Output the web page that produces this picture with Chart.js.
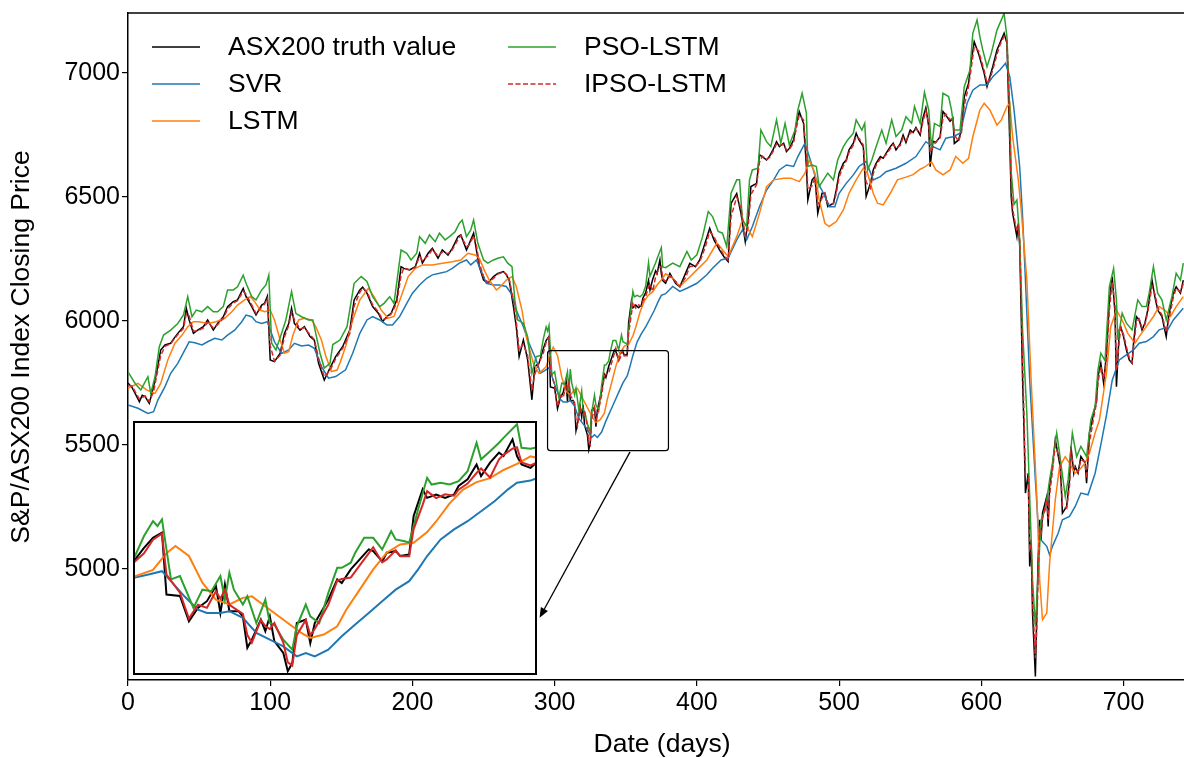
<!DOCTYPE html>
<html>
<head>
<meta charset="utf-8">
<script src="https://cdn.jsdelivr.net/npm/chart.js@4.4.1/dist/chart.umd.min.js"></script>
<style>
  html, body { margin: 0; padding: 0; background: #fff; overflow: hidden; }
  #wrap { position: relative; width: 1184px; height: 758px; }
  #main { position: absolute; left: 0; top: 0; }
  #insetBox { position: absolute; left: 133px; top: 421px; width: 400px; height: 250px;
              border: 2px solid #000; background: #fff; }
  #inset { display: block; }
</style>
</head>
<body>
<div id="wrap">
  <canvas id="main" width="1184" height="758"></canvas>
  <div id="insetBox"><canvas id="inset" width="400" height="250"></canvas></div>
</div>
<script>
// ── Data ─────────────────────────────────────────────────────────────────────
const DAYS = [
  0,3,5,8,10,12,15,18,20,23, 26,30,33,35,39,41,43,46,49,53,
  56,60,63,67,70,74,77,81,83,87, 90,94,96,98,100,103,107,110,113,115,
  117,121,124,128,131,134,138,142,146,151, 156,159,163,165,168,170,172,176,179,182,
  185,189,192,194,198,202,205,207,211,214, 218,221,225,228,232,234,238,240,243,245,
  247,250,253,257,260,264,266,268,271,273, 275,278,281,284,286,289,292,294,296,297,
  300,302,304,306,308,309,310,311,313,314, 315,316,318,319,320,321,323,324,325,326,
  328,329,330,333,335,336,338,340,342,343, 345,346,348,349,351,352,354,355,357,359,
  361,362,364,366,367,369,371,372,374,375, 376,378,381,385,388,392,395,399,402,406,
  409,412,416,419,422,424,428,431,434,436, 438,442,444,446,449,451,454,456,458,461,
  463,465,468,470,472,475,477,478,481,483, 485,488,490,492,496,498,500,503,505,507,
  510,512,514,517,519,522,524,526,529,531, 533,536,538,540,543,545,547,550,552,554,
  557,559,561,563,564,566,568,571,573,575, 578,580,581,584,586,588,591,593,595,598,
  600,602,604,606,608,611,613,616,618,619, 620,621,622,625,626,627,628,629,630,631,
  633,634,635,636,638,639,640,641,642,643, 646,647,648,650,652,655,656,657,660,662,
  663,665,666,668,670,673,674,676,679,681, 682,684,686,688,690,692,694,695,697,698,
  700,702,704,706,707,709,711,713,715,717, 720,722,724,727,730,732,735,737,740,742,
];

const TRUTH = [
  5750,5730,5708,5674,5700,5695,5668,5735,5789,5883, 5903,5910,5935,5950,5977,6051,6004,5950,5963,5977,
  6004,5963,5990,6017,6058,6078,6085,6131,6098,6058, 6024,6064,6071,6100,5843,5836,5870,5950,5990,6051,
  5990,5963,5977,5937,5923,5829,5762,5810,5856,5897, 5964,6085,6125,6136,6112,6085,6058,6031,5997,6018,
  6031,6085,6219,6212,6206,6219,6273,6233,6273,6293, 6253,6286,6266,6293,6340,6347,6286,6313,6354,6286,
  6219,6165,6152,6179,6192,6199,6186,6165,6058,5977, 5856,5923,5843,5682,5816,5830,5888,5921,5938,5734,
  5729,5646,5690,5712,5762,5673,5767,5679,5679,5662, 5558,5585,5651,5613,5662,5580,5541,5481,5508,5640,
  5651,5574,5640,5717,5784,5772,5817,5850,5883,5877, 5844,5872,5877,5861,5866,5993,6081,6053,6064,6053,
  6064,6092,6114,6163,6125,6169,6202,6191,6246,6191, 6163,6152,6192,6152,6138,6192,6232,6219,6246,6320,
  6374,6327,6286,6259,6239,6474,6514,6434,6320,6407, 6542,6555,6670,6663,6649,6663,6696,6723,6703,6717,
  6683,6696,6730,6797,6844,6797,6623,6488,6569,6582, 6434,6515,6515,6461,6475,6529,6596,6636,6649,6690,
  6717,6757,6730,6703,6502,6555,6609,6636,6663,6656, 6676,6703,6717,6690,6715,6750,6720,6770,6760,6780,
  6750,6820,6860,6784,6622,6725,6720,6743,6845,6830, 6805,6818,6716,6730,6770,6905,6958,7052,7126,7079,
  7039,6999,6945,6985,7025,7093,7120,7160,7120,6918, 6716,6500,6435,6340,6394,6300,6031,5763,5561,5306,
  5386,5010,5117,4822,4566,4822,5050,5198,5117,5225, 5292,5171,5333,5413,5521,5427,5359,5225,5252,5359,
  5494,5386,5413,5386,5453,5427,5346,5548,5628,5680, 5776,5830,5749,5870,6080,6179,6031,5735,5964,5977,
  5937,5883,5843,5829,5910,6018,6004,5964,5991,6044, 6165,6098,6044,6018,5937,6031,6112,6138,6112,6165,
];

const IPSO = [
  5740,5738,5715,5685,5690,5698,5675,5715,5775,5860, 5898,5908,5930,5945,5970,6030,6020,5960,5960,5972,
  5995,5972,5985,6010,6048,6072,6082,6120,6108,6065, 6030,6055,6068,6090,5900,5838,5862,5935,5982,6035,
  6005,5968,5973,5945,5925,5850,5775,5800,5848,5890, 5950,6060,6115,6133,6118,6092,6065,6037,6005,6012,
  6028,6072,6185,6214,6207,6216,6260,6243,6263,6288, 6262,6278,6271,6287,6328,6345,6300,6307,6343,6303,
  6235,6178,6155,6172,6189,6197,6189,6170,6085,5997, 5885,5907,5860,5720,5785,5830,5870,5915,5935,5800,
  5740,5655,5700,5690,5745,5720,5750,5700,5680,5670, 5600,5575,5650,5630,5620,5640,5575,5510,5500,5600,
  5650,5600,5620,5700,5780,5785,5790,5830,5870,5890, 5840,5850,5880,5860,5860,5950,6030,6075,6052,6065,
  6060,6080,6100,6135,6150,6120,6180,6195,6215,6220, 6170,6160,6180,6160,6140,6175,6220,6222,6238,6300,
  6360,6340,6295,6265,6245,6420,6500,6455,6345,6380, 6510,6550,6640,6665,6652,6658,6688,6715,6708,6712,
  6690,6692,6720,6780,6830,6810,6670,6530,6545,6578, 6470,6495,6515,6475,6472,6515,6580,6626,6645,6680,
  6710,6745,6737,6710,6560,6535,6595,6628,6655,6658, 6670,6695,6712,6697,6708,6740,6728,6758,6763,6775,
  6758,6805,6848,6800,6680,6700,6722,6738,6815,6835, 6812,6815,6750,6725,6760,6870,6945,7025,7105,7090,
  7050,7010,6960,6975,7012,7075,7112,7148,7130,6990, 6780,6560,6450,6360,6380,6320,6110,5850,5620,5380,
  5370,5080,5095,4880,4640,4760,4990,5160,5140,5200, 5280,5200,5300,5395,5500,5445,5375,5255,5245,5335,
  5465,5410,5408,5392,5440,5432,5365,5510,5610,5670, 5750,5818,5765,5845,6040,6160,6060,5800,5920,5972,
  5945,5895,5852,5832,5890,5995,6008,5972,5985,6035, 6140,6110,6055,6024,5955,6010,6095,6132,6118,6150,
];

const PSO_DAYS = [
  0,5,9,14,16,19,22,25,30,35, 39,42,45,48,52,56,60,63,67,70,
  74,77,81,83,87,90,94,97,99,101, 104,108,111,115,118,122,127,130,132,135,
  138,142,144,149,154,159,164,168,172,177, 180,184,187,192,196,199,203,205,209,212,
  216,219,223,226,230,233,235,238,241,243, 246,250,253,257,260,264,267,270,272,274,
  278,281,284,287,290,292,294,295,296,298, 300,303,305,307,309,310,311,312,314,315,
  317,319,320,321,323,325,326,328,329,331, 333,335,336,338,339,341,343,345,347,348,
  350,351,353,355,356,358,360,362,364,366, 367,369,371,372,375,376,378,383,388,393,
  396,400,404,408,411,415,418,421,424,428, 430,432,435,437,439,443,445,449,452,456,
  459,462,465,469,471,474,477,478,481,484, 486,489,492,496,499,503,506,510,512,516,
  518,520,523,526,530,533,537,540,544,547, 551,553,557,560,563,565,567,571,573,577,
  579,581,585,588,592,594,597,599,601,604, 607,611,613,616,618,620,621,623,625,627,
  629,632,634,636,638,640,642,645,648,650, 653,655,659,661,664,667,670,674,677,680,
  682,684,687,690,693,695,696,699,702,706, 710,713,716,718,721,724,727,730,734,737,
  740,742,
];

const PSO = [
  5795,5748,5722,5775,5708,5775,5896,5943,5963,5990, 6024,6098,6017,6044,6037,6058,6037,6037,6058,6125,
  6125,6138,6185,6152,6098,6085,6125,6145,6185,5910, 5883,5950,6004,6118,6031,6017,6004,6004,5950,5870,
  5810,5829,5905,5923,5977,6152,6179,6159,6098,6058, 6071,6098,6071,6286,6273,6246,6273,6340,6313,6347,
  6320,6354,6327,6340,6360,6394,6407,6340,6367,6407, 6313,6246,6233,6246,6253,6259,6233,6219,6085,6004,
  5991,5937,5789,5856,5861,5927,5976,5960,5982,5784, 5795,5690,5750,5745,5795,5717,5806,5750,5701,5728,
  5640,5717,5640,5635,5585,5552,5629,5701,5662,5640, 5739,5822,5822,5839,5872,5921,5921,5883,5943,5916,
  5910,5905,6015,6119,6097,6103,6097,6108,6141,6235, 6180,6207,6235,6251,6296,6218,6215,6233,6219,6280,
  6246,6267,6340,6441,6421,6361,6354,6300,6515,6569, 6569,6407,6381,6569,6609,6616,6770,6723,6703,6811,
  6717,6797,6710,6770,6851,6918,6838,6623,6629,6623, 6542,6569,6596,6569,6649,6703,6730,6757,6811,6770,
  6797,6609,6649,6703,6770,6717,6811,6744,6770,6824, 6797,6865,6797,6922,6851,6695,6797,6784,6918,6905,
  6851,6770,6770,6945,7012,7160,7214,7146,7093,7025, 7079,7173,7200,7240,7146,6851,6600,6470,6488,6327,
  5964,5628,5292,4956,4768,4983,5198,5238,5359,5427, 5548,5467,5292,5359,5548,5453,5494,5453,5601,5655,
  5803,5870,5840,6138,6212,6085,5924,6031,5991,5964, 6085,6058,6058,6112,6219,6112,6085,6004,6098,6192,
  6165,6233,
];

const SVR_DAYS = [
  0,7,14,18,21,26,30,35,40,43, 47,52,56,61,66,70,75,80,83,87,
  90,94,98,103,108,113,117,122,127,131, 136,141,146,153,158,163,168,172,177,182,
  186,191,196,200,205,210,214,219,224,228, 233,238,241,245,248,252,257,261,266,270,
  273,278,282,287,290,293,296,298,301,304, 306,309,311,314,317,320,323,326,328,330,
  333,336,339,342,345,348,351,353,355,358, 361,364,367,370,373,375,378,383,388,393,
  400,407,411,417,422,428,432,435,439,444, 449,454,458,463,468,471,476,479,484,489,
  493,497,500,505,510,514,519,524,529,533, 540,547,554,561,566,571,575,580,585,590,
  594,599,604,608,613,617,620,623,627,629, 631,634,638,640,642,646,648,650,654,657,
  662,666,670,675,680,684,688,692,695,697, 702,707,711,716,721,725,729,731,735,740,
  742,
];

const SVR = [
  5661,5648,5627,5634,5681,5735,5789,5829,5883,5916, 5912,5903,5916,5930,5923,5943,5963,5997,6024,6017,
  5997,5990,5997,5916,5869,5883,5910,5899,5903,5890, 5816,5769,5776,5803,5870,5950,6004,6018,6004,5984,
  5984,6018,6071,6112,6145,6172,6186,6192,6199,6212, 6233,6246,6226,6246,6206,6152,6145,6145,6139,6105,
  6044,5977,5910,5843,5790,5800,5811,5778,5728,5684, 5673,5673,5679,5657,5607,5585,5563,5530,5541,5530,
  5552,5596,5635,5673,5712,5750,5778,5817,5861,5916, 5949,5976,6009,6042,6081,6103,6110,6139,6119,6132,
  6152,6186,6213,6246,6253,6327,6367,6327,6381,6461, 6528,6569,6609,6629,6623,6663,6717,6663,6569,6515,
  6461,6461,6515,6555,6589,6623,6643,6569,6582,6602, 6616,6636,6663,6723,6703,6690,6737,6743,6757,6878,
  6931,6952,6952,6985,7012,7039,6985,6851,6620,6420, 6166,5763,5359,5171,5117,5091,5057,5091,5144,5198,
  5212,5252,5306,5299,5386,5500,5620,5760,5810,5843, 5863,5883,5910,5917,5937,5964,5971,5964,6004,6038,
  6051,
];

const LSTM_DAYS = [
  0,7,13,19,23,28,33,38,42,46, 50,56,62,68,73,77,82,86,89,93,
  96,100,103,107,110,113,116,120,124,129, 132,136,139,143,147,149,153,158,163,169,
  173,178,183,187,192,197,202,207,214,221, 228,234,239,244,247,251,254,259,262,266,
  270,273,277,280,285,289,294,297,299,302, 305,308,311,314,316,318,321,324,327,329,
  332,335,337,340,343,346,349,352,355,357, 360,363,366,369,372,375,378,383,388,393,
  400,407,414,418,422,428,432,435,439,444, 449,454,461,466,472,476,479,483,486,490,
  493,498,503,507,512,517,520,524,527,531, 536,541,547,552,557,560,565,568,573,578,
  582,587,591,594,599,602,606,611,614,618, 620,622,626,628,632,635,639,641,643,646,
  648,652,655,659,662,666,669,673,676,680, 683,688,691,695,699,703,708,711,716,721,
  725,729,733,737,742,
];

const LSTM = [
  5728,5748,5722,5708,5748,5843,5910,5943,5977,5997, 5997,5990,5997,6011,6037,6064,6085,6098,6078,6044,
  6037,6044,6004,5923,5870,5876,5943,6004,6011,6004, 5977,5923,5860,5796,5802,5830,5897,6004,6085,6132,
  6098,6044,6011,6018,6098,6179,6212,6226,6226,6233, 6239,6246,6273,6266,6253,6199,6165,6125,6139,6165,
  6179,6139,6044,5937,5830,5789,5815,5870,5894,5861, 5773,5717,5701,5723,5728,5706,5673,5640,5607,5591,
  5602,5629,5684,5750,5817,5872,5899,5905,5940,5975, 6035,6080,6105,6118,6145,6165,6190,6173,6139,6166,
  6206,6246,6314,6287,6260,6340,6408,6381,6340,6434, 6542,6569,6576,6576,6562,6596,6649,6596,6488,6394,
  6381,6401,6448,6515,6569,6616,6596,6515,6475,6468, 6515,6569,6580,6590,6612,6620,6642,6609,6589,6609,
  6663,6636,6656,6743,6851,6878,6851,6790,6810,6864, 6878,6743,6569,6448,6166,5763,5292,4956,4795,4822,
  5023,5279,5413,5453,5427,5386,5400,5427,5467,5548, 5600,5790,5977,6044,6004,5950,5910,5937,5977,6018,
  6058,6044,6018,6058,6098,
];

const TICKS_X = [0, 100, 200, 300, 400, 500, 600, 700];
const TICKS_Y = [5000, 5500, 6000, 6500, 7000];

// ── Styling ──────────────────────────────────────────────────────────────────
const FONT = "'Liberation Sans', Arial, sans-serif";
const C = {
  truth: "#000000",
  svr:   "#1f77b4",
  lstm:  "#ff7f0e",
  pso:   "#2ca02c",
  ipso:  "#d62728",
};
const ZOOM_BOX = { x0: 295, x1: 380, y0: 5477, y1: 5880 };
const ARROW = { from: [353, 5472], to: [289.4, 4803] };

Chart.defaults.font.family = FONT;
Chart.defaults.color = "#000";

const pts = (xs, ys) => xs.map((x, i) => ({ x, y: ys[i] }));

function makeDatasets(lw, insetMode) {
  const base = { pointRadius: 0, borderWidth: lw, tension: 0, fill: false };
  return [
    { ...base, label: "ASX200 truth value", data: pts(DAYS, TRUTH),        borderColor: C.truth, order: 5 },
    { ...base, label: "SVR",                data: pts(SVR_DAYS, SVR),      borderColor: C.svr,   order: 4 },
    { ...base, label: "LSTM",               data: pts(LSTM_DAYS, LSTM),    borderColor: C.lstm,  order: 3 },
    { ...base, label: "PSO-LSTM",           data: pts(PSO_DAYS, PSO),      borderColor: C.pso,   order: 2 },
    { ...base, label: "IPSO-LSTM",          data: pts(DAYS, IPSO),         borderColor: C.ipso,  order: 1,
      borderDash: insetMode ? [] : [5, 2.5] },
  ];
}

// ── Decorations: top spine, zoom box, arrow, legend, axis titles ────────────
const decorations = {
  id: "decorations",
  afterDraw(chart) {
    const { ctx, chartArea: a, scales: { x, y } } = chart;
    ctx.save();

    // top spine
    ctx.strokeStyle = "#000";
    ctx.lineWidth = 1.5;
    ctx.beginPath();
    ctx.moveTo(a.left, a.top);
    ctx.lineTo(a.right, a.top);
    ctx.stroke();

    // zoom rectangle
    const bx0 = x.getPixelForValue(ZOOM_BOX.x0), bx1 = x.getPixelForValue(ZOOM_BOX.x1);
    const by0 = y.getPixelForValue(ZOOM_BOX.y1), by1 = y.getPixelForValue(ZOOM_BOX.y0);
    ctx.lineWidth = 1.2;
    ctx.beginPath();
    ctx.roundRect(bx0, by0, bx1 - bx0, by1 - by0, 3);
    ctx.stroke();

    // arrow
    const ax0 = x.getPixelForValue(ARROW.from[0]), ay0 = y.getPixelForValue(ARROW.from[1]);
    const ax1 = x.getPixelForValue(ARROW.to[0]),   ay1 = y.getPixelForValue(ARROW.to[1]);
    const ang = Math.atan2(ay1 - ay0, ax1 - ax0);
    const head = 10, half = 4;
    ctx.lineWidth = 1.3;
    ctx.beginPath();
    ctx.moveTo(ax0, ay0);
    ctx.lineTo(ax1 - head * Math.cos(ang), ay1 - head * Math.sin(ang));
    ctx.stroke();
    ctx.fillStyle = "#000";
    ctx.beginPath();
    ctx.moveTo(ax1, ay1);
    ctx.lineTo(ax1 - head * Math.cos(ang) + half * Math.sin(ang), ay1 - head * Math.sin(ang) - half * Math.cos(ang));
    ctx.lineTo(ax1 - head * Math.cos(ang) - half * Math.sin(ang), ay1 - head * Math.sin(ang) + half * Math.cos(ang));
    ctx.closePath();
    ctx.fill();

    // legend (two columns, column-major like matplotlib)
    const items = [
      { t: "ASX200 truth value", c: C.truth, lx: 152, ty: 47 },
      { t: "SVR",                c: C.svr,   lx: 152, ty: 84 },
      { t: "LSTM",               c: C.lstm,  lx: 152, ty: 121 },
      { t: "PSO-LSTM",           c: C.pso,   lx: 508, ty: 47 },
      { t: "IPSO-LSTM",          c: C.ipso,  lx: 508, ty: 84, dash: [5, 2.5] },
    ];
    ctx.font = "26.5px " + FONT;
    ctx.textBaseline = "middle";
    ctx.textAlign = "left";
    items.forEach(it => {
      ctx.strokeStyle = it.c;
      ctx.lineWidth = 1.5;
      ctx.setLineDash(it.dash || []);
      ctx.beginPath();
      ctx.moveTo(it.lx, it.ty);
      ctx.lineTo(it.lx + 48, it.ty);
      ctx.stroke();
      ctx.setLineDash([]);
      ctx.fillStyle = "#000";
      ctx.fillText(it.t, it.lx + 76, it.ty + 1);
    });

    // axis titles
    ctx.textAlign = "center";
    ctx.fillText("Date (days)", 662, 745);
    ctx.translate(22, 347);
    ctx.rotate(-Math.PI / 2);
    ctx.fillText("S&P/ASX200 Index Closing Price", 0, 0);

    ctx.restore();
  },
};

// ── Main chart ──────────────────────────────────────────────────────────────
new Chart(document.getElementById("main").getContext("2d"), {
  type: "line",
  data: { datasets: makeDatasets(1.5, false) },
  options: {
    responsive: false,
    animation: false,
    devicePixelRatio: 1,
    layout: { padding: { top: 13, left: 0, right: 0, bottom: 0 } },
    plugins: { legend: { display: false }, tooltip: { enabled: false } },
    scales: {
      x: {
        type: "linear",
        min: 0,
        max: 742.5,
        afterFit: s => { s.height = 78; },
        afterBuildTicks: s => { s.ticks = TICKS_X.map(v => ({ value: v })); },
        ticks: { font: { size: 25 }, color: "#000", padding: 2, maxRotation: 0, callback: v => String(v) },
        grid: { drawOnChartArea: false, tickLength: 6, color: "#000", lineWidth: 1.2 },
        border: { color: "#000", width: 1.5 },
      },
      y: {
        min: 4552,
        max: 7242,
        afterFit: s => { s.width = 128; s.paddingTop = 0; s.paddingBottom = 0; },
        afterBuildTicks: s => { s.ticks = TICKS_Y.map(v => ({ value: v })); },
        ticks: { font: { size: 25, lineHeight: 1 }, color: "#000", padding: 2, callback: v => String(v) },
        grid: { drawOnChartArea: false, tickLength: 6, color: "#000", lineWidth: 1.2 },
        border: { color: "#000", width: 1.5 },
      },
    },
  },
  plugins: [decorations],
});

// ── Inset (zoomed view) ─────────────────────────────────────────────────────
new Chart(document.getElementById("inset").getContext("2d"), {
  type: "line",
  data: { datasets: makeDatasets(2, true) },
  options: {
    responsive: false,
    animation: false,
    devicePixelRatio: 1,
    layout: { padding: 0 },
    plugins: { legend: { display: false }, tooltip: { enabled: false } },
    scales: {
      x: { type: "linear", min: 290, max: 379, display: false },
      y: { min: 5475, max: 6300, display: false },
    },
  },
});
</script>
</body>
</html>
